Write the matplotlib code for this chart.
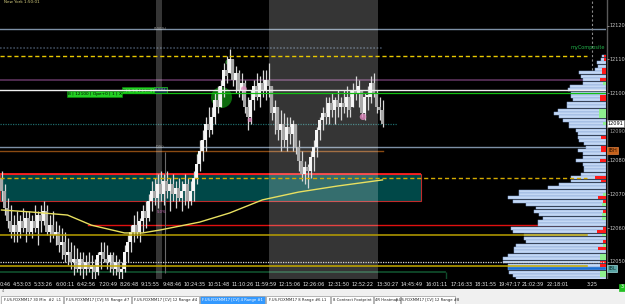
import numpy as np
import matplotlib
matplotlib.use("Agg")
import matplotlib.pyplot as plt
from matplotlib import font_manager
from matplotlib.patches import Rectangle

# ---------------- data ----------------
bar_high = [
    12077, 12073, 12069, 12067, 12064, 12065, 12064, 12066, 12065, 12065,
    12064, 12067, 12065, 12067, 12068, 12067, 12064, 12065, 12062, 12061,
    12060, 12059, 12057, 12056, 12055, 12054, 12053, 12053, 12052, 12053,
    12052, 12051, 12053, 12056, 12056, 12055, 12053, 12053, 12052, 12051,
    12050, 12055, 12058, 12061, 12064, 12065, 12063, 12067, 12068, 12070,
    12074, 12075, 12076, 12077, 12076, 12077, 12075, 12076, 12074, 12075,
    12074, 12076, 12075, 12074, 12077, 12082, 12086, 12089, 12093, 12096,
    12096, 12100, 12102, 12104, 12109, 12111, 12113, 12110, 12108, 12107,
    12106, 12104, 12099, 12101, 12104, 12106, 12105, 12107, 12107, 12109,
    12102, 12098, 12096, 12095, 12094, 12093, 12093, 12092, 12091, 12086,
    12083, 12080, 12079, 12083, 12086, 12090, 12093, 12096, 12099, 12099,
    12100, 12099, 12101, 12099, 12101, 12102, 12101, 12103, 12105, 12104,
    12101, 12100, 12102, 12105, 12106, 12101, 12099, 12098]
bar_low = [
    12068, 12064, 12060, 12057, 12056, 12056, 12057, 12059, 12056, 12058,
    12057, 12059, 12055, 12059, 12061, 12058, 12056, 12057, 12055, 12053,
    12051, 12050, 12049, 12048, 12046, 12047, 12046, 12045, 12046, 12047,
    12045, 12045, 12046, 12048, 12050, 12048, 12047, 12046, 12046, 12045,
    12044, 12047, 12050, 12053, 12056, 12057, 12056, 12059, 12060, 12062,
    12065, 12067, 12066, 12068, 12067, 12069, 12065, 12068, 12066, 12068,
    12065, 12067, 12066, 12067, 12068, 12073, 12077, 12080, 12083, 12087,
    12088, 12091, 12094, 12096, 12099, 12103, 12106, 12102, 12100, 12099,
    12098, 12094, 12089, 12091, 12095, 12098, 12096, 12099, 12098, 12099,
    12092, 12088, 12086, 12083, 12084, 12083, 12085, 12083, 12082, 12077,
    12074, 12073, 12072, 12075, 12077, 12081, 12086, 12089, 12091, 12091,
    12093, 12091, 12093, 12092, 12094, 12093, 12093, 12096, 12098, 12096,
    12093, 12092, 12095, 12097, 12099, 12094, 12092, 12090]
bar_close = [
    12071, 12066, 12062, 12059, 12061, 12059, 12062, 12060, 12063, 12059,
    12062, 12060, 12064, 12062, 12065, 12059, 12061, 12058, 12059, 12055,
    12056, 12052, 12053, 12050, 12051, 12048, 12051, 12048, 12050, 12048,
    12049, 12047, 12052, 12053, 12051, 12050, 12052, 12048, 12050, 12047,
    12048, 12053, 12056, 12059, 12061, 12059, 12062, 12065, 12063, 12068,
    12071, 12069, 12073, 12070, 12074, 12071, 12073, 12070, 12072, 12069,
    12071, 12073, 12068, 12071, 12075, 12079, 12083, 12086, 12091, 12089,
    12093, 12098, 12096, 12102, 12107, 12105, 12110, 12104, 12106, 12101,
    12103, 12096, 12093, 12098, 12102, 12099, 12103, 12101, 12104, 12102,
    12094, 12096, 12089, 12091, 12086, 12090, 12088, 12091, 12084, 12080,
    12076, 12078, 12077, 12081, 12084, 12089, 12092, 12094, 12093, 12097,
    12095, 12098, 12096, 12097, 12096, 12099, 12095, 12101, 12100, 12102,
    12094, 12099, 12099, 12103, 12100, 12096, 12095, 12091]
first_open = 12075

ma_idx = [0, 10, 22, 30, 41, 47, 53, 66, 76, 87, 99, 112, 127]
ma_val = [12065.4, 12064.8, 12063.9, 12060.9, 12058.6, 12058.6, 12059.5,
          12061.8, 12064.5, 12068.4, 12070.7, 12072.5, 12074.3]

profile_prices = list(range(12111, 12044, -1))
profile_vol = [4, 5, 9, 8, 11, 27, 25, 23, 23, 36,
               38, 35, 35, 33, 39, 39, 48, 52, 47, 43,
               37, 37, 30, 28, 28, 27, 22, 20, 28, 23,
               23, 30, 23, 22, 22, 25, 35, 35, 47, 58,
               87, 87, 98, 93, 80, 70, 72, 67, 63, 68,
               68, 95, 93, 82, 82, 80, 90, 92, 92, 98,
               103, 103, 98, 98, 97, 93, 90]
profile_delta = [-2, -2, 0, 0, -4, -4, 0, -6, 3, 0,
                 0, 0, -6, -6, 0, 0, 7, 7, 7, 0,
                 3, 0, 0, 0, -5, 0, 0, -5, -5, 0,
                 0, -6, 0, 0, 0, 0, -11, -5, 0, 0,
                 0, 3, -8, -3, 4, 0, -3, 4, 4, 0,
                 0, -3, -9, 4, 0, -3, 3, -8, 0, 6,
                 6, -6, -6, 0, 6, 6, 0]
poc_price = 12048

fib_levels = {"(100%)": 12119, "(0%)": 12084}
zone_low, zone_high = 12068, 12076
last_price = 12091
ibh, ibl = 12083, 12048
axis_levels = [12120, 12110, 12100, 12090, 12080, 12070, 12060, 12050]

time_labels = ["0:46", "4:53:03", "5:33:26", "6:00:11", "6:42:56", "7:20:49",
               "8:26:48", "9:15:55", "9:48:46", "10:24:35", "10:51:48",
               "11:10:26", "11:59:59", "12:15:06", "12:26:06", "12:31:50",
               "12:52:22", "13:30:27", "14:45:49", "16:01:11", "17:16:33",
               "18:31:55", "19:47:17", "21:02:39", "22:18:01", "3:25"]
time_pos = [-0.5, 6.8, 13.9, 21.2, 28.3, 35.5, 42.5, 49.7, 56.8, 64.5, 72.5,
            80.5, 88.2, 96.2, 104.2, 112.3, 120.5, 128.7, 136.8, 145.2,
            153.2, 161.5, 169.5, 177.2, 185.5, 196.8]
session_bands = [(51.5, 53.5), (89.2, 125.5)]

tabs = [("F.US.FDXMM17 30 Min  #2  L1", False),
        ("F.US.FDXMM17 [CV] 55 Range #7", False),
        ("F.US.FDXMM17 [CV] 12 Range #4", False),
        ("F.US.FDXMM17 [CV] 4 Range #1", True),
        ("F.US.FDXMM17 8 Range #6 L1", False),
        ("8 Contract Footprint", False),
        ("4R Heatmap", False),
        ("F.US.FDXMM17 [CV] 12 Range #8", False)]
tab_edges = [1, 64, 132, 200, 266, 331, 374, 401, 456]

# ---------------- style / layout ----------------
names = {f.name for f in font_manager.fontManager.ttflist}
NARROW = 'Liberation Sans Narrow' if 'Liberation Sans Narrow' in names else 'DejaVu Sans'
FS = 4.6 if NARROW != 'DejaVu Sans' else 3.6

W, H = 625, 304
PLOT_R, PLOT_B = 606, 279
PX_PER_BAR = 3.0
Y_MAX = 12127.6
Y_MIN = Y_MAX - PLOT_B / 3.376


def ax_rect(x0, y0, x1, y1):
    return [x0 / W, 1 - y1 / H, (x1 - x0) / W, (y1 - y0) / H]


fig = plt.figure(figsize=(W / 100, H / 100), dpi=100, facecolor='black')

ax = fig.add_axes(ax_rect(0, 0, PLOT_R, PLOT_B))
ax.set_xlim(-0.5, -0.5 + PLOT_R / PX_PER_BAR)
ax.set_ylim(Y_MIN, Y_MAX)
ax.axis('off')

# session bands
for a, b in session_bands:
    ax.axvspan(a, b, color='white', alpha=0.21, lw=0, zorder=2)

# zone rectangle
ax.add_patch(Rectangle((-0.5, zone_low), 140.3, zone_high - zone_low,
                       facecolor='#004848', edgecolor='#c02a2a', lw=0.8, zorder=1))
ax.hlines(zone_high, -0.5, 139.8, color='#ff2020', lw=1.3, zorder=1.6)


def hline(a, y, x0, x1, color, ls='-', lw=1.0, z=1.5):
    a.axhline(y, xmin=x0 / PLOT_R, xmax=x1 / PLOT_R, color=color, ls=ls, lw=lw, zorder=z)


# lines under the profile
hline(ax, fib_levels["(100%)"], 0, 606, '#7d90a6', lw=1.0)
hline(ax, 12113.5, 0, 382, '#3b4858', ls=(0, (1, 1)), lw=1.2)
hline(ax, 12104, 0, 606, '#4f2b4f', lw=1.4)
hline(ax, last_price, 0, 397, '#1e6a6a', ls=(0, (1, 1)), lw=0.9)
hline(ax, fib_levels["(0%)"], 0, 606, '#7d90a6', lw=1.0)
hline(ax, ibh, 0, 383, '#8a4a12', lw=1.0)
hline(ax, 12061, 88, 606, '#e01010', lw=1.0)
hline(ax, 12047, 0, 445, '#0f4a2a', lw=1.3)
ax.vlines(148.0, Y_MIN, 12047, color='#0f4a2a', lw=1.0, zorder=1.5)

# fib anchor line
ax.vlines(54.5, 12046.7, 12082.6, color='#6a6a6a', lw=0.8, zorder=2.5)

# markers
ax.scatter([73.2], [12098.9], s=230, color='#0c6a0c', zorder=2.6, lw=0)
ax.scatter([65.8, 75.5], [12081.7, 12109.2], s=[9, 14], color='#2a7a2a', zorder=2.6, lw=0)

# candles
hi = np.array(bar_high, float)
lo = np.array(bar_low, float)
cl = np.array(bar_close, float)
op = np.clip(np.concatenate([[first_open], cl[:-1]]), lo, hi)
xi = np.arange(len(cl))
up = cl >= op
ax.vlines(xi, lo, hi, color='#d8d8d8', lw=0.9, zorder=3)
body = np.where(np.abs(cl - op) < 0.6, 0.6, cl - op)
ax.bar(xi, body, bottom=op, width=0.72,
       color=np.where(up, '#f6f6f6', '#a8a8a8'), edgecolor='none', zorder=3.2)

# moving average
ax.plot(ma_idx, ma_val, color='#e8e060', lw=1.0, zorder=3.5)

# pink markers
ax.scatter([80.8, 82.8, 120.5], [12101.2, 12092.1, 12093.0], s=[18, 10, 22],
           color='#e08ac0', alpha=0.8, zorder=3.6, lw=0)

# now marker
ax.vlines(196.8, 12106.9, Y_MAX, color='#8c8c8c', lw=0.8, ls=(0, (2, 2)), zorder=2)

# fib labels
for txt, y in fib_levels.items():
    ax.text(52.8, y, txt, color='#a8a8a8', fontsize=FS - 1, family=NARROW,
            ha='center', va='center', zorder=5)
ax.text(53.5, 12064.8, '-50%', color='#d070c0', fontsize=FS - 1, family=NARROW,
        ha='center', va='center', zorder=5)

# trade labels
ax.text(31.0, 12099.8, 'B | 12100 | Ope+0 | 1 | X', color='black', fontsize=FS - 0.5,
        family=NARROW, ha='center', va='center', zorder=6,
        bbox=dict(boxstyle='square,pad=0.2', fc='#22d022', ec='#0a8a0a', lw=0.5))
ax.text(45.5, 12100.9, 'B | 5 | 12100 |', color='black', fontsize=FS - 0.5,
        family=NARROW, ha='center', va='center', zorder=6,
        bbox=dict(boxstyle='square,pad=0.2', fc='#22d022', ec='#0a8a0a', lw=0.5))
ax.text(53.0, 12100.9, '(50%)', color='#b0c0c0', fontsize=FS - 1.0,
        family=NARROW, ha='center', va='center', zorder=6,
        bbox=dict(boxstyle='square,pad=0.25', fc='#0c2e44', ec='#22d022', lw=0.5))

# ---------------- volume profile ----------------
ax2 = ax.twiny()
ax2.set_xlim(PLOT_R, 0)
ax2.set_ylim(Y_MIN, Y_MAX)
ax2.axis('off')
pcol = ['#1a70d4' if p == poc_price else '#c4d8f4' for p in profile_prices]
ax2.barh(profile_prices, profile_vol, height=0.86, left=0, color=pcol,
         edgecolor='#86a4d4', lw=0.35, zorder=2)
dv = np.array(profile_delta, float)
dcol = ['#ff1a1a' if d < 0 else '#8ef08e' for d in dv]
ax2.barh(profile_prices, np.abs(dv), height=0.86, left=0, color=dcol, lw=0, zorder=3)

# lines above the profile
hline(ax2, 12111, 0, 587, '#e8c800', ls=(0, (3, 2)), lw=1.0, z=4)
hline(ax2, 12101, 0, 605, '#f0f0f0', lw=1.0, z=4)
hline(ax2, 12100, 122, 605, '#12c012', lw=0.9, z=4)
hline(ax2, 12075, 0, 587, '#d4aa00', ls=(0, (3, 2)), lw=1.0, z=4)
hline(ax2, 12058, 0, 587, '#b8a000', lw=1.1, z=4)
hline(ax2, 12050, 0, 605, '#d8d8d8', ls=(0, (1, 1)), lw=0.9, z=4)
hline(ax2, 12048.8, 0, 587, '#c4aa00', lw=1.1, z=4)

fig.text(605 / W, 1 - 48 / H, 'myComposite', color='#22b04a', fontsize=FS,
         family=NARROW, ha='right', va='center')
fig.text(4 / W, 1 - 2 / H, 'New York 1:50:01', color='#d8d080', fontsize=FS - 0.6,
         family=NARROW, ha='left', va='center')

# ---------------- price axis ----------------
ax3 = fig.add_axes(ax_rect(PLOT_R, 0, W, PLOT_B))
ax3.set_xlim(0, 1)
ax3.set_ylim(Y_MIN, Y_MAX)
ax3.axis('off')
ax3.axvline(0.03, color='#5a5a5a', lw=1.0)
ax3.hlines(axis_levels, 0.03, 0.16, color='#9a9a9a', lw=0.6)
for p in axis_levels:
    if p == 12090:
        continue
    ax3.text(0.2, p, str(p), color='#c8c8c8', fontsize=FS, family=NARROW,
             ha='left', va='center')
ax3.text(0.2, 12089.4, '12090', color='#c8c8c8', fontsize=FS, family=NARROW,
         ha='left', va='top', alpha=0.8)
ax3.text(0.09, last_price, str(last_price), color='black', fontsize=FS, family=NARROW,
         ha='left', va='center', zorder=5,
         bbox=dict(boxstyle='square,pad=0.15', fc='white', ec='#909090', lw=0.5))
ax3.text(0.12, ibh, 'IBH', color='#2a1000', fontsize=FS, family=NARROW,
         ha='left', va='center', zorder=5,
         bbox=dict(boxstyle='square,pad=0.2', fc='#c8621a', ec='#e08040', lw=0.5))
ax3.text(0.12, ibl, 'IBL', color='#0a2a2a', fontsize=FS, family=NARROW,
         ha='left', va='center', zorder=5,
         bbox=dict(boxstyle='square,pad=0.2', fc='#5aa6a6', ec='#a0e0e0', lw=0.5))

# ---------------- time axis ----------------
axt = fig.add_axes(ax_rect(0, PLOT_B, PLOT_R, 289))
axt.set_xlim(-0.5, -0.5 + PLOT_R / PX_PER_BAR)
axt.set_ylim(0, 1)
axt.axis('off')
for i, (t, p) in enumerate(zip(time_labels, time_pos)):
    axt.text(p, 0.45, t, color='#e6e6e6', fontsize=FS, family=NARROW,
             ha='left' if i == 0 else 'center', va='center')
fig.text(622 / W, 1 - 287 / H, '3', color='white', fontsize=FS, family=NARROW,
         ha='center', va='center',
         bbox=dict(boxstyle='square,pad=0.2', fc='#22c022', ec='#22c022', lw=0.5))

# ---------------- tab bar ----------------
axb = fig.add_axes(ax_rect(0, 289, W, H))
axb.set_xlim(0, W)
axb.set_ylim(H, 289)
axb.axis('off')
axb.add_patch(Rectangle((0, 289), W, 15, fc='#f0f0f0', ec='none'))
axb.text(3, 291.5, '4', color='#606060', fontsize=2.5, ha='center', va='center')
for (txt, active), x0, x1 in zip(tabs, tab_edges[:-1], tab_edges[1:]):
    axb.add_patch(Rectangle((x0, 295.5), x1 - x0 - 1, 8.5,
                            fc='#3399ff' if active else 'white',
                            ec='#9a9a9a', lw=0.5))
    axb.text((x0 + x1 - 1) / 2, 299.8, txt, color='white' if active else '#202020',
             fontsize=FS - 0.9, family=NARROW, ha='center', va='center')

fig.savefig('out.png', dpi=100, facecolor='black')
